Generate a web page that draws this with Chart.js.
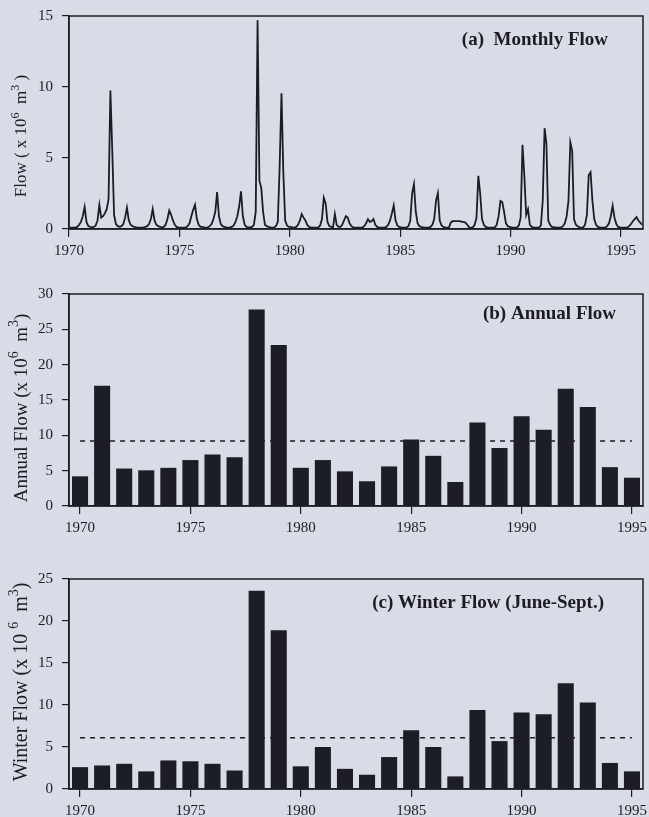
<!DOCTYPE html>
<html><head><meta charset="utf-8">
<script src="https://cdn.jsdelivr.net/npm/chart.js@4.4.0/dist/chart.umd.min.js"></script>
<style>
html,body{margin:0;padding:0;background:#d8dce6;}
body{width:649px;height:817px;position:relative;overflow:hidden;}
canvas{position:absolute;left:0;display:block;}
</style></head><body>
<canvas id="ca" width="649" height="265" style="top:0px"></canvas>
<canvas id="cb" width="649" height="280" style="top:265px"></canvas>
<canvas id="cc" width="649" height="272" style="top:545px"></canvas>
<script>
// ---------- data ----------
const monthlyStartYear = 1970;
const monthlyFlow = [
  0.1,0.1,0.1,0.12,0.15,0.3,0.5,0.9,1.55,0.5,0.2,0.15,        // 1970
  0.12,0.15,0.25,0.6,1.7,0.8,0.9,1.1,1.4,2.1,9.75,5.6,        // 1971
  1.0,0.35,0.2,0.15,0.2,0.35,0.8,1.5,0.6,0.3,0.2,0.15,        // 1972
  0.12,0.1,0.1,0.1,0.12,0.15,0.2,0.35,0.7,1.4,0.6,0.3,        // 1973
  0.2,0.15,0.12,0.15,0.3,0.7,1.3,1.0,0.6,0.3,0.15,0.12,       // 1974
  0.1,0.1,0.1,0.12,0.2,0.4,0.9,1.35,1.7,0.7,0.3,0.15,         // 1975
  0.15,0.12,0.1,0.12,0.2,0.35,0.7,1.2,2.6,0.9,0.35,0.2,       // 1976
  0.15,0.12,0.1,0.1,0.15,0.25,0.5,0.9,1.6,2.65,0.9,0.3,       // 1977
  0.15,0.12,0.12,0.15,0.3,1.2,14.7,3.4,2.9,1.2,0.3,0.2,       // 1978
  0.15,0.12,0.1,0.12,0.2,0.5,4.4,9.56,4.0,0.6,0.25,0.15,      // 1979
  0.15,0.12,0.1,0.15,0.3,0.6,1.05,0.8,0.6,0.3,0.15,0.12,      // 1980
  0.1,0.1,0.1,0.12,0.25,0.7,2.2,1.8,0.5,0.2,0.15,0.12,        // 1981
  1.05,0.3,0.15,0.15,0.3,0.6,0.9,0.8,0.4,0.2,0.12,0.1,        // 1982
  0.1,0.1,0.1,0.12,0.2,0.4,0.7,0.5,0.55,0.7,0.3,0.15,         // 1983
  0.12,0.1,0.1,0.1,0.15,0.3,0.6,1.1,1.66,0.6,0.25,0.15,       // 1984
  0.12,0.1,0.1,0.12,0.2,0.6,2.5,3.16,1.2,0.4,0.2,0.15,        // 1985
  0.12,0.1,0.1,0.1,0.15,0.3,0.7,2.0,2.53,0.6,0.25,0.15,       // 1986
  0.12,0.1,0.1,0.45,0.55,0.56,0.56,0.55,0.55,0.5,0.5,0.45,    // 1987
  0.3,0.12,0.1,0.12,0.3,0.8,3.75,2.5,0.7,0.3,0.15,0.12,       // 1988
  0.1,0.1,0.1,0.12,0.3,0.9,1.97,1.9,1.2,0.4,0.2,0.15,         // 1989
  0.12,0.1,0.1,0.12,0.25,0.8,5.93,3.75,1.0,1.4,0.3,0.15,      // 1990
  0.12,0.1,0.1,0.12,0.25,2.0,7.1,6.0,0.6,0.3,0.15,0.12,       // 1991
  0.12,0.1,0.1,0.12,0.2,0.4,0.9,2.0,6.1,5.5,0.7,0.3,          // 1992
  0.2,0.12,0.1,0.12,0.3,1.0,3.8,4.0,2.0,0.7,0.3,0.15,         // 1993
  0.12,0.1,0.1,0.1,0.2,0.4,0.9,1.64,0.8,0.35,0.15,0.12,       // 1994
  0.1,0.1,0.1,0.12,0.2,0.35,0.55,0.7,0.84,0.6,0.45,0.3        // 1995
];
const yearTicks = [1970, 1975, 1980, 1985, 1990, 1995];
const barYears = [1970,1971,1972,1973,1974,1975,1976,1977,1978,1979,1980,1981,1982,
                  1983,1984,1985,1986,1987,1988,1989,1990,1991,1992,1993,1994,1995];
const annualFlow = [4.2,17.0,5.3,5.05,5.4,6.5,7.3,6.9,27.8,22.8,5.4,6.5,4.9,
                    3.5,5.6,9.4,7.1,3.4,11.8,8.2,12.7,10.8,16.6,14.0,5.5,4.0];
const annualMean = 9.2;
const winterFlow = [2.6,2.8,3.0,2.1,3.4,3.3,3.0,2.2,23.6,18.9,2.7,5.0,2.4,
                    1.7,3.8,7.0,5.0,1.5,9.4,5.7,9.1,8.9,12.6,10.3,3.1,2.1];
const winterMean = 6.1;
const panelLabels = ['(a)  Monthly Flow', '(b) Annual Flow', '(c) Winter Flow (June-Sept.)'];
// axis titles as [text, isSuperscript] pieces
const axisTitles = [
  [['Flow ( x 10', 0], ['6', 1], ['  m', 0], ['3', 1], [' )', 0]],
  [['Annual Flow (x 10', 0], ['6', 1], ['  m', 0], ['3', 1], [')', 0]],
  [['Winter Flow (x 10 ', 0], ['6', 1], ['  m', 0], ['3', 1], [')', 0]]
];

// ---------- style ----------
const FONT = "'Liberation Serif','Times New Roman',serif";
const INK = '#1c1c22';
const BAR = '#1d1d25';

const panelPlugin = {
  id: 'panel',
  afterDraw(chart, args, o) {
    const {ctx, chartArea: a} = chart;
    ctx.save();
    ctx.strokeStyle = INK; ctx.lineWidth = 1.5;
    ctx.strokeRect(a.left, a.top, a.right - a.left, a.bottom - a.top);
    ctx.fillStyle = INK;
    ctx.font = 'bold ' + o.labelSize + 'px ' + FONT;
    ctx.textAlign = 'right'; ctx.textBaseline = 'middle';
    ctx.fillText(o.label, o.labelX, o.labelY);
    // rotated axis title with superscripts
    const big = o.titleSize + 'px ' + FONT;
    const small = Math.round(o.titleSize * 0.72) + 'px ' + FONT;
    let total = 0;
    const widths = o.title.map(([t, sup]) => { ctx.font = sup ? small : big; const w = ctx.measureText(t).width; total += w; return w; });
    ctx.translate(o.titleX, o.titleY);
    ctx.rotate(-Math.PI / 2);
    ctx.textAlign = 'left'; ctx.textBaseline = 'middle';
    let x = -total / 2;
    o.title.forEach(([t, sup], i) => {
      ctx.font = sup ? small : big;
      ctx.fillText(t, x, sup ? -o.titleSize * 0.38 : 0);
      x += widths[i];
    });
    ctx.restore();
  }
};

function yScale(max, width) {
  return {
    min: 0, max: max,
    afterFit: s => { s.width = width; s.paddingTop = 0; s.paddingBottom = 0; },
    grid: { drawOnChartArea: false, tickLength: 7, color: INK, lineWidth: 1.2 },
    border: { color: INK, width: 1.5 },
    ticks: { stepSize: 5, color: INK, padding: 9, font: { family: FONT, size: 15 } }
  };
}

Chart.defaults.animation = false;

// Panel (a)
new Chart(document.getElementById('ca'), {
  type: 'line',
  data: {
    datasets: [{
      data: monthlyFlow.map((v, i) => ({ x: monthlyStartYear + (i + 0.5) / 12, y: v })),
      borderColor: INK, borderWidth: 1.8, pointRadius: 0, tension: 0, fill: false
    }]
  },
  options: {
    responsive: false,
    layout: { padding: { top: 16, right: 6, left: 0, bottom: 0 } },
    plugins: {
      legend: { display: false }, tooltip: { enabled: false },
      panel: { label: panelLabels[0], labelSize: 19, labelX: 608, labelY: 40,
               title: axisTitles[0], titleSize: 17, titleX: 22, titleY: 136 }
    },
    scales: {
      x: {
        type: 'linear', min: 1970, max: 1996,
        afterBuildTicks: s => { s.ticks = yearTicks.map(v => ({ value: v })); },
        afterFit: s => { s.height = 36; s.paddingLeft = 0; s.paddingRight = 0; },
        grid: { drawOnChartArea: false, tickLength: 8, color: INK, lineWidth: 1.2 },
        border: { color: INK, width: 1.5 },
        ticks: { color: INK, padding: 5, maxRotation: 0, font: { family: FONT, size: 15 },
                 callback: v => String(v) }
      },
      y: yScale(15, 69)
    }
  },
  plugins: [panelPlugin]
});

function barChart(id, values, mean, yMax, padTop, xHeight, labelIdx, labelX, labelY, titleY, titleSize) {
  const labels = barYears.map(String);
  return new Chart(document.getElementById(id), {
    data: {
      labels: labels,
      datasets: [
        { type: 'bar', data: values, backgroundColor: BAR, borderWidth: 0,
          categoryPercentage: 0.8, barPercentage: 0.91, order: 1 },
        { type: 'line', data: [{ x: labels[0], y: mean }, { x: labels[labels.length - 1], y: mean }],
          borderColor: INK, borderWidth: 1.5, borderDash: [5, 5], pointRadius: 0, fill: false, order: 2 }
      ]
    },
    options: {
      responsive: false,
      layout: { padding: { top: padTop, right: 6, left: 0, bottom: 0 } },
      plugins: {
        legend: { display: false }, tooltip: { enabled: false },
        panel: { label: panelLabels[labelIdx], labelSize: 19, labelX: labelX, labelY: labelY,
                 title: axisTitles[labelIdx], titleSize: titleSize, titleX: 22, titleY: titleY }
      },
      scales: {
        x: {
          type: 'category', offset: true,
          afterFit: s => { s.height = xHeight; s.paddingLeft = 0; s.paddingRight = 0; },
          grid: { offset: false, drawOnChartArea: false, tickLength: 8, lineWidth: 1.2,
                  color: c => (barYears[c.index] % 5 === 0 ? INK : 'rgba(0,0,0,0)') },
          border: { color: INK, width: 1.5 },
          ticks: { autoSkip: false, maxRotation: 0, color: INK, padding: 5,
                   font: { family: FONT, size: 15 },
                   callback: (v, i) => (barYears[i] % 5 === 0 ? String(barYears[i]) : '') }
        },
        y: yScale(yMax, 69)
      }
    },
    plugins: [panelPlugin]
  });
}

barChart('cb', annualFlow, annualMean, 30, 29, 39, 1, 616, 49, 143, 19);
barChart('cc', winterFlow, winterMean, 25, 34, 28, 2, 604, 58, 137, 20);
</script>
</body></html>
